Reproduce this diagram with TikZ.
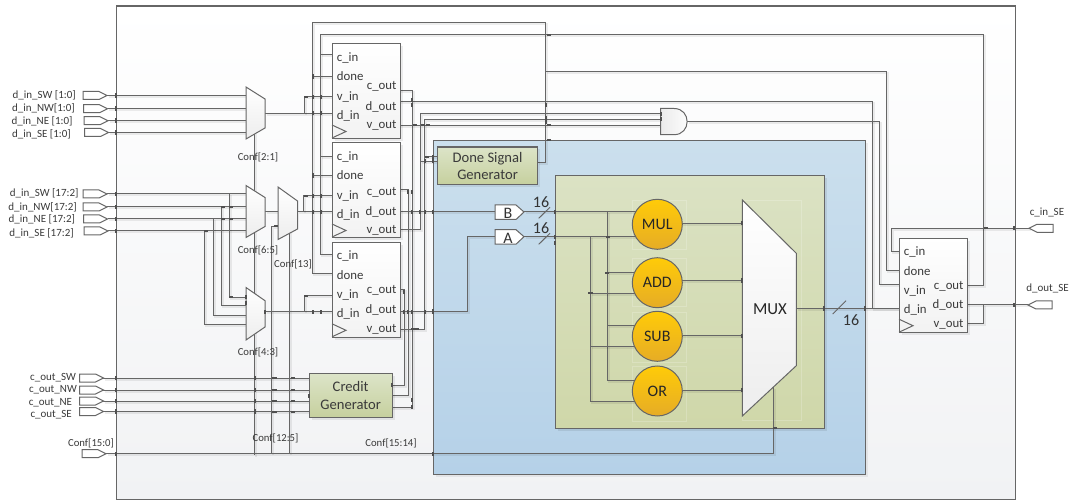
\documentclass[tikz,border=0pt]{standalone}
\usepackage{fontspec}
\setmainfont{Carlito}
\definecolor{wirec}{HTML}{666666}
\definecolor{markc}{HTML}{505050}
\definecolor{textc}{HTML}{3A3A3A}
\definecolor{genT}{HTML}{DCE4C8}
\definecolor{genB}{HTML}{C6D09E}
\definecolor{fuT}{HTML}{FFCB08}
\definecolor{fuB}{HTML}{E6AC26}
\definecolor{blueT}{HTML}{CBDFED}
\definecolor{blueB}{HTML}{B5D1E8}
\definecolor{greenT}{HTML}{DBE2C4}
\definecolor{greenB}{HTML}{CFD7A9}
\definecolor{outerB}{HTML}{F1F2F4}
\newcommand{\fs}[1]{\fontsize{#1}{#1}\selectfont}
\tikzset{
  wire/.style={draw=wirec,line width=1pt,preaction={draw=black,draw opacity=.07,line width=2pt,transform canvas={shift={(1.5pt,-1.5pt)}}}},
  box/.style={draw=wirec,line width=1.2pt},
  portst/.style={draw=wirec,line width=1pt,fill=white},
  muxst/.style={draw=wirec,line width=1pt,top color=white,bottom color=white!93!black},
  lab/.style={text=textc,inner sep=0pt,font=\fs{11}},
  conf/.style={text=textc,inner sep=0pt,font=\fs{10.7}},
  pin/.style={text=textc,inner sep=0pt,font=\fs{12.8}},
  fifo/.style={draw=wirec,line width=1pt,top color=white,bottom color=white!95!black,minimum width=67.6pt,minimum height=94.5pt,inner sep=0pt,anchor=north west},
  gen/.style={draw=wirec,line width=1.1pt,top color=genT,bottom color=genB,inner sep=0pt,align=center,text=textc,font=\fs{14.6},anchor=north west},
  fu/.style={circle,draw=wirec,line width=1pt,top color=fuT,bottom color=fuB,minimum size=50pt,inner sep=0pt,text=black!85,font=\fs{16}},
  ghost/.style={draw=white,draw opacity=.2,line width=.7pt},
  slash/.style={draw=wirec,line width=1pt},
  num/.style={text=black!80,inner sep=0pt,font=\fs{16}}
}
\newcommand{\inport}[2]{\draw[portst] (#1,#2-4) -- (#1+16,#2-4) -- (#1+24,#2) -- (#1+16,#2+4) -- (#1,#2+4) -- cycle;}
\newcommand{\outport}[2]{\draw[portst] (#1,#2) -- (#1+8,#2-4) -- (#1+24,#2-4) -- (#1+24,#2+4) -- (#1+8,#2+4) -- cycle;}
\newcommand{\fifoblock}[6]{% name x ytop cout dout vout (label y offsets)
  \fill[black,opacity=.07] (#2+3,#3+3) rectangle (#2+70.6,#3+97.5);
  \node[fifo] (#1) at (#2,#3) {};
  \draw[draw=wirec,line width=1pt] (#2,#3+81.5) -- (#2+14,#3+88) -- (#2,#3+94.5);
  \node[pin,anchor=west] (#1lc) at (#2+4.7,#3+14) {c\_in};
  \node[pin,anchor=west] (#1ld) at (#2+4.7,#3+33) {done};
  \node[pin,anchor=west] (#1lv) at (#2+4.7,#3+53) {v\_in};
  \node[pin,anchor=west] (#1li) at (#2+4.7,#3+72) {d\_in};
  \node[pin,anchor=east] (#1lco) at (#2+64.7,#3+#4) {c\_out};
  \node[pin,anchor=east] (#1ldo) at (#2+64.7,#3+#5) {d\_out};
  \node[pin,anchor=east] (#1lvo) at (#2+64.7,#3+#6) {v\_out};
}
\begin{document}
\begin{tikzpicture}[x=1pt,y=-1pt]
\useasboundingbox (0,0) rectangle (1070,502);
\fill[white] (0,0) rectangle (1070,502);
% enclosures
\node[draw=wirec,line width=1.2pt,top color=white,bottom color=outerB,minimum width=898.5pt,minimum height=493.5pt,anchor=north west] (outer) at (116,5.5) {};
\fill[black,opacity=.06] (436,143) rectangle (867.5,477);
\node[box,top color=blueT,bottom color=blueB,minimum width=431.5pt,minimum height=334pt,anchor=north west] (blue) at (433,140) {};
\fill[black,opacity=.08] (557.5,178) rectangle (826.5,431);
\node[box,top color=greenT,bottom color=greenB,minimum width=269pt,minimum height=253pt,anchor=north west] (green) at (554.5,175) {};
% faint outlines
\draw[ghost] (632.7,200) rectangle (686.7,249.3);
\draw[ghost] (632.7,258) rectangle (686.7,306);
\draw[ghost] (632.7,312) rectangle (686.7,362);
\draw[ghost] (632.7,366) rectangle (686.7,421);
\draw[ghost] (742.3,200) rectangle (801.7,420);
% pins
\foreach \n/\x/\y in {
  b1cin/332/55,b1done/332/76.5,b1vin/332/97,b1din/332/113.3,b1cout/399.5/90.3,b1dout/399.5/102,b1vout/399.5/125.3,
  b2cin/332/156.7,b2done/332/175.5,b2vin/332/196,b2din/332/212,b2cout/399.5/189.7,b2dout/399.5/212,b2vout/399.5/229.7,
  b3cin/332/255,b3done/332/273.5,b3vin/332/296,b3din/332/312,b3cout/399.5/289.3,b3dout/399.5/311.7,b3vout/399.5/329.3,
  scin/899/251.7,sdone/899/271,svin/899/285,sdin/899/308.5,scout/966.7/285.7,sdout/966.7/305,svout/966.7/323.5,
  m1o/265/113.3,m2o/265/212,m3o/297.5/212,m3i/278/226.5,m3a/278/212,m4o/265/312,
  m1a/246/95.5,m1b/246/108.7,m1c/246/120.7,m1d/246/132.5,
  m2a/246/194,m2b/246/207,m2c/246/219,m2d/246/231,
  m4a/246/297.3,m4b/246/306,m4c/246/315.3,m4d/246/324.3,
  p1a/107/95.5,p1b/107.5/108.7,p1c/108/120.7,p1d/108.5/132.5,
  p2a/107/194,p2b/107/207,p2c/107.5/219,p2d/108/231,
  pc1/103/378,pc2/103/390,pc3/103/401,pc4/103/411.5,pconf/106/453.7,
  cg1in/308.5/378,cg2in/308.5/390,cg3in/308.5/401,cg4in/308.5/411.5,
  cg1/391.7/385,cg2/391.7/395.7,cg3/391.7/407.7,
  dgout/537/163,dgi1/437/157,dgi2/437/161.5,
  and1/660.5/114,and2/660.5/119.3,and3/660.5/125.3,ando/687/121.7,
  pcin/1029/228.3,pdout/1028/305,
  bin/495/212,bout/524/212,ain/495/236.7,aout/524/236.7,
  muxo/796.3/308.5,muxs/773/387.4,
  mi1/742.3/223.3,mi2/742.3/280.7,mi3/742.3/335.7,mi4/742.3/390,
  dA/545.7/23,dB/312.5/23,dC/886/72,cA/983.3/34.7,cB/320.7/34.7,
  r1/304/113.3,r2/303.5/212,r3/304/312,
  s1/254.5/133,s2/254.5/455,s3/271/453.7,s4/289/232,s5/289/453.7,
  rB/607.7/212,rA/590.3/236.7,
  uB1/640/212,uA1/640/236.7,uB2/640/272.7,uA2/640/293.3,uB3/640/326,uA3/640/346.7,uB4/640/380.7,uA4/640/401.3,
  so1/680/223.3,so2/680/280.7,so3/680/335.7,so4/680/390}
  \coordinate (\n) at (\x,\y);
% input wires
\foreach \a/\b in {p1a/m1a,p1b/m1b,p1c/m1c,p1d/m1d,p2a/m2a,p2b/m2b,p2c/m2c,p2d/m2d,pc1/cg1in,pc2/cg2in,pc3/cg3in,pc4/cg4in}
  \draw[wire] (\a) -- (\b);
\coordinate (v1) at (229.5,0);\coordinate (v2) at (221.5,0);\coordinate (v3) at (213,0);\coordinate (v4) at (204.7,0);
\draw[wire] (v1 |- m2a) -- (v1 |- m4a) -- (m4a);
\draw[wire] (v2 |- m2b) -- (v2 |- m4b) -- (m4b);
\draw[wire] (v3 |- m2c) -- (v3 |- m4c) -- (m4c);
\draw[wire] (v4 |- m2d) -- (v4 |- m4d) -- (m4d);
% select lines
\draw[wire] (s1) -- (s2);
\draw[wire] (m3i) -| (s3);
\draw[wire] (s4) -- (s5);
\draw[wire] (pconf) -- (muxs |- pconf) -- (muxs);
% mux to fifo
\draw[wire] (m1o) -- (b1din); \draw[wire] (r1) |- (b1vin);
\draw[wire] (m2o) -- (m3a);
\draw[wire] (m3o) -- (b2din); \draw[wire] (r2) |- (b2vin);
\draw[wire] (m4o) -- (b3din); \draw[wire] (r3) |- (b3vin);
% done network
\draw[wire] (dgout) -| (dA) -- (dB) |- (b3done);
\draw[wire] (dB |- b1done) -- (b1done);
\draw[wire] (dB |- b2done) -- (b2done);
\draw[wire] (dA |- dC) -- (dC) |- (sdone);
% credit network
\draw[wire] (scout) -| (cA) -- (cB) |- (b3cin);
\draw[wire] (cB |- b1cin) -- (b1cin);
\draw[wire] (cB |- b2cin) -- (b2cin);
\draw[wire] (pcin) -- (891.7,228.3) |- (scin);
\draw[wire] (sdout) -- (pdout);
\draw[wire] (svout) -| (cA |- sdout);
\draw[wire] (muxo) -- (sdin);
\draw[wire] (b1dout) -- (872,102) |- (sdin);
\draw[wire] (ando) -- (879,121.7) |- (svin);
\draw[wire] (b1cout) -- (412.3,90.3) |- (cg3);
\draw[wire] (b2cout) -- (408.3,189.7) |- (cg2);
\draw[wire] (b3cout) -- (404,289.3) |- (cg1);
\draw[wire] (b1vout) -- (and3);
\draw[wire] (b2vout) -- (420.3,229.7) |- (and1);
\draw[wire] (b3vout) -- (424.7,329.3) |- (and2);
\draw[wire] (420.3,161.5) -- (dgi2);
\draw[wire] (424.7,157) -- (dgi1);
\draw[wire] (b2dout) -- (bin);
\draw[wire] (b3dout) -- (467.7,311.7) |- (ain);
\draw[wire] (bout) -- (uB1);
\draw[wire] (aout) -- (uA1);
\draw[wire] (rB) |- (uB4);
\draw[wire] (rA) |- (uA4);
\foreach \a/\b in {rB/uB2,rA/uA2,rB/uB3,rA/uA3}
  \draw[wire] (\a |- \b) -- (\b);
\foreach \a/\b in {so1/mi1,so2/mi2,so3/mi3,so4/mi4}
  \draw[wire] (\a) -- (\b);
% ports
\inport{83}{95.5}\inport{83.5}{108.7}\inport{84}{120.7}\inport{84.5}{132.5}
\inport{83}{194}\inport{83}{207}\inport{83.5}{219}\inport{84}{231}
\inport{79.5}{378}\inport{79.5}{390}\inport{79.5}{401}\inport{79.5}{411.5}
\inport{82}{453.7}
\outport{1029}{228.3}\outport{1028}{305}
% muxes
\draw[muxst] (246,87) -- (265,99) -- (265,128) -- (246,139) -- cycle;
\draw[muxst] (246,185.5) -- (265,197.5) -- (265,226.5) -- (246,237.5) -- cycle;
\draw[muxst] (278,187) -- (297.5,201) -- (297.5,229) -- (278,239.5) -- cycle;
\draw[muxst] (246,287.5) -- (265,300.7) -- (265,327) -- (246,340) -- cycle;
\draw[muxst] (742.3,200) -- (796.3,253.3) -- (796.3,365.7) -- (742.3,416) -- cycle;
\node[inner sep=0pt,text=black!85,font=\fs{16.8}] (muxl) at (770,308.7) {MUX};
% and gate
\draw[draw=wirec,line width=1pt,left color=white!92!black,right color=white] (660.5,108.5) -- (674,108.5) .. controls (691.5,108.5) and (691.5,134.7) .. (674,134.7) -- (660.5,134.7) -- cycle;
% fifos
\fifoblock{b1}{332}{43.5}{43}{63}{82}
\fifoblock{b2}{332}{142.5}{50}{69}{88}
\fifoblock{b3}{332}{242.3}{48.4}{67.7}{86.7}
\fifoblock{b4}{899}{237.7}{48.6}{67.6}{86.6}
% generators
\fill[black,opacity=.07] (440,149.5) rectangle (540,187);
\node[gen,minimum width=100pt,minimum height=37.5pt] (dg) at (437,146.5) {Done Signal\\[3pt]Generator};
\fill[black,opacity=.07] (311.5,376) rectangle (394.7,419.7);
\node[gen,minimum width=83.2pt,minimum height=43.7pt] (cgen) at (308.5,373) {Credit\\[3pt]Generator};
% functional units
\node[fu] (mul) at (657.3,224.3) {MUL};
\node[fu] (add) at (657.3,282.7) {ADD};
\node[fu] (sub) at (657.3,336.3) {SUB};
\node[fu] (or) at (657.3,391) {OR};
% A/B
\draw[portst] (495,205) -- (516,205) -- (524,212) -- (516,219.5) -- (495,219.5) -- cycle;
\draw[portst] (495,229.7) -- (516,229.7) -- (524,236.7) -- (516,244.2) -- (495,244.2) -- cycle;
\node[num] (lb) at (508,213) {B};
\node[num] (la) at (508,238) {A};
% bus slashes
\draw[slash] (538.7,218.3) -- (550,207.3);
\draw[slash] (538.7,244.3) -- (550,233.3);
\draw[slash] (832.7,314) -- (846,300.7);
\node[num] (n1) at (541,202.5) {16};
\node[num] (n2) at (541,228) {16};
\node[num] (n3) at (851,320) {16};
% port labels
\foreach \n/\x/\y/\t in {
  a/76/95.7/{d\_in\_SW [1:0]},b/75/108.7/{d\_in\_NW[1:0]},c/72.7/121.3/{d\_in\_NE [1:0]},d/71/134.3/{d\_in\_SE [1:0]},
  e/78.7/193.7/{d\_in\_SW [17:2]},f/77/207.3/{d\_in\_NW[17:2]},g/75.3/219.7/{d\_in\_NE [17:2]},h/74/233.3/{d\_in\_SE [17:2]},
  i/76/378/{c\_out\_SW},j/77/389.7/{c\_out\_NW},k/72.3/402.7/{c\_out\_NE},l/72/415/{c\_out\_SE}}
  \node[lab,anchor=east] (lab\n) at (\x,\y) {\t};
\node[lab] (labcin) at (1047,212.5) {c\_in\_SE};
\node[lab] (labdout) at (1047.5,288.5) {d\_out\_SE};
\foreach \n/\x/\y/\t in {
  a/258/157/{Conf[2:1]},b/258/250/{Conf[6:5]},c/293/264.5/{Conf[13]},d/258/352.5/{Conf[4:3]},
  e/275.5/438/{Conf[12:5]},f/91/443.5/{Conf[15:0]},g/391/443.5/{Conf[15:14]}}
  \node[conf] (conf\n) at (\x,\y) {\t};
% junction marks, vertical
\foreach \x/\y in {116/95.5,116/108.7,116/120.7,116/132.5,116/194,116/207,116/219,116/231,116/378,116/390,116/401,116/411.5,116/454,
  1014/228.3,1014/305,433/212,433/311.7,433/454,
  312.5/97,320.7/97,312.5/113.3,320.7/113.3,312.5/196,320.7/196,312.5/212,320.7/212,312.5/312,320.7/312,
  312.5/76.5,312.5/175.5,254.5/378,254.5/390,254.5/401,254.5/411.5,265/312,246/297.3,246/303,
  412.3/100,412.3/105,412.3/192,408.3/192,404/292,412.3/212,420.3/212,424.7/212,404/312,408.3/312,412.3/312,424.7/312,412.3/400,412.3/407,
  308.5/396,391.7/385,545.7/105,545.7/118,545.7/122,554.5/212,554.5/237,554.5/243,742.3/223.3,742.3/280.7,742.3/335.7,742.3/390,
  823.5/308.5,864.5/308.5,424.7/161,433/157,433/161,660.5/114,660.5/119.3}
  \fill[markc] (\x-1,\y-2.2) rectangle (\x+1,\y+2.2);
% junction marks, horizontal
\foreach \x/\y in {231/207,223/207,231/219,223/219,206/231,231/297.3,274.5/378,293/378,274.5/390,293/390,274.5/401,293/401,274.5/411.5,293/411.5,
  306/97,306/196,306/296,415/125.3,423/125.3,428/125.3,417/329.3,413/329.3,427/157,549/34.7,549/125.3,549/140,276/226.5,
  607/272.7,590.3/293.3,607.7/237,775/428,986/228.3}
  \fill[markc] (\x-2.2,\y-1) rectangle (\x+2.2,\y+1);
\end{tikzpicture}
\end{document}
